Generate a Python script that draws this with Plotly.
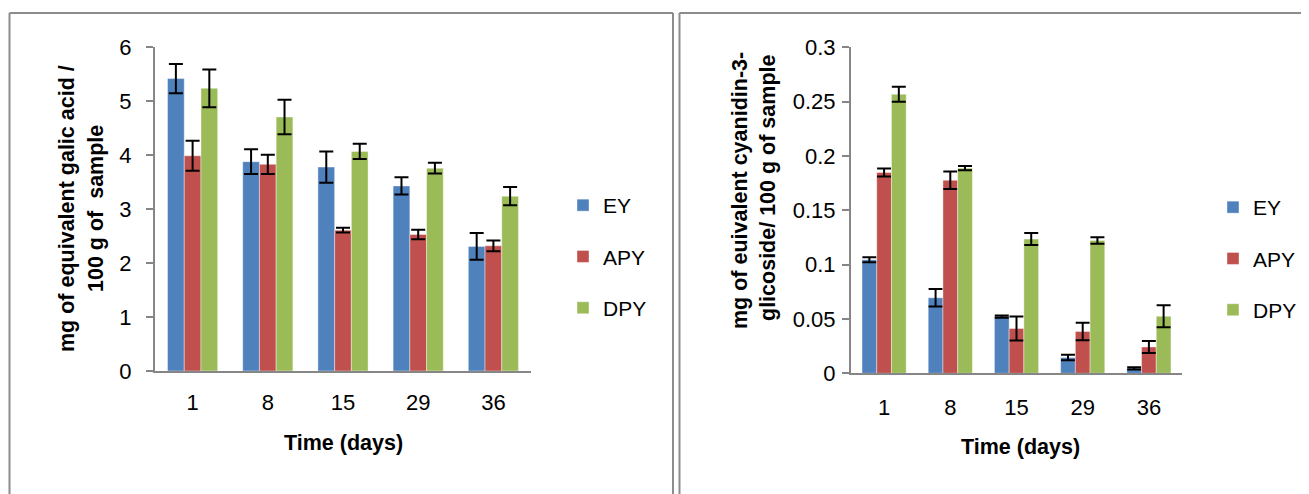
import plotly.graph_objects as go

days = ["1", "8", "15", "29", "36"]
series = ["EY", "APY", "DPY"]
colors = ["#4F81BD", "#C0504D", "#9BBB59"]

# Left chart: total phenolics (mg gallic acid eq / 100 g)
phen_EY = [5.42, 3.88, 3.78, 3.43, 2.31]
phen_APY = [3.99, 3.83, 2.61, 2.53, 2.32]
phen_DPY = [5.24, 4.71, 4.07, 3.76, 3.24]
phen_EY_err = [0.27, 0.23, 0.29, 0.16, 0.25]
phen_APY_err = [0.28, 0.18, 0.045, 0.09, 0.1]
phen_DPY_err = [0.35, 0.32, 0.14, 0.1, 0.17]

# Right chart: anthocyanins (mg cyanidin-3-glucoside eq / 100 g)
anth_EY = [0.1045, 0.0695, 0.0522, 0.0145, 0.0045]
anth_APY = [0.1848, 0.1776, 0.0412, 0.0385, 0.0242]
anth_DPY = [0.2568, 0.1888, 0.1235, 0.1222, 0.0525]
anth_EY_err = [0.0023, 0.008, 0.001, 0.0025, 0.001]
anth_APY_err = [0.0037, 0.008, 0.011, 0.008, 0.0055]
anth_DPY_err = [0.007, 0.002, 0.0055, 0.003, 0.0102]

W, H = 1309, 494
OFF = 8  # page body margin offset compensation
FONT = "Liberation Sans, Arial, sans-serif"

def px(x):
    return (x - OFF) / W

def py(y):
    return 1 - (y - OFF) / H

fig = go.Figure()

left_vals = [phen_EY, phen_APY, phen_DPY]
left_errs = [phen_EY_err, phen_APY_err, phen_DPY_err]
right_vals = [anth_EY, anth_APY, anth_DPY]
right_errs = [anth_EY_err, anth_APY_err, anth_DPY_err]

for i, name in enumerate(series):
    fig.add_trace(go.Bar(
        x=days, y=left_vals[i], name=name, xaxis="x", yaxis="y",
        marker=dict(color=colors[i], line=dict(color="rgba(255,255,255,0.5)", width=0.8)),
        error_y=dict(type="data", array=left_errs[i], color="black", thickness=2, width=7),
        legend="legend", legendgroup="L" + name,
    ))
for i, name in enumerate(series):
    fig.add_trace(go.Bar(
        x=days, y=right_vals[i], name=name, xaxis="x2", yaxis="y2",
        marker=dict(color=colors[i], line=dict(color="rgba(255,255,255,0.5)", width=0.8)),
        error_y=dict(type="data", array=right_errs[i], color="black", thickness=2, width=7),
        legend="legend2", legendgroup="R" + name,
    ))

axis_common = dict(showline=True, linecolor="#868686", linewidth=2, showgrid=False,
                   zeroline=False, automargin=False,
                   tickfont=dict(family=FONT, size=22, color="black"))

fig.update_layout(
    width=W, height=H,
    margin=dict(l=0, r=0, t=0, b=0, pad=0, autoexpand=False),
    paper_bgcolor="white", plot_bgcolor="white",
    barmode="group", bargap=0.333, bargroupgap=0,
    font=dict(family=FONT, color="black"),
    xaxis=dict(domain=[px(155), px(531)], anchor="y", type="category",
               ticks="", ticklabelstandoff=11, **axis_common),
    yaxis=dict(domain=[py(371), py(47.3)], anchor="x", range=[0, 6], dtick=1,
               ticks="outside", ticklen=7, tickcolor="#868686", tickwidth=2,
               ticklabelstandoff=10, **axis_common),
    xaxis2=dict(domain=[px(851), px(1182)], anchor="y2", type="category",
                ticks="", ticklabelstandoff=13, **axis_common),
    yaxis2=dict(domain=[py(373.3), py(47.3)], anchor="x2", range=[0, 0.3], dtick=0.05,
                ticks="outside", ticklen=7, tickcolor="#868686", tickwidth=2,
                ticklabelstandoff=2, tickformat="~g", **axis_common),
    legend=dict(x=px(563), y=py(185), xanchor="left", yanchor="top",
                font=dict(family=FONT, size=21), tracegroupgap=21,
                bgcolor="rgba(0,0,0,0)", itemwidth=30),
    legend2=dict(x=px(1213), y=py(187), xanchor="left", yanchor="top",
                 font=dict(family=FONT, size=21), tracegroupgap=21,
                 bgcolor="rgba(0,0,0,0)", itemwidth=30),
    showlegend=True,
)

annos = [
    dict(text="<b>mg of equivalent galic acid /</b>", x=px(67), y=py(209), textangle=-90),
    dict(text="<b>100 g of  sample</b>", x=px(96), y=py(209), textangle=-90),
    dict(text="<b>mg of euivalent cyanidin-3-</b>", x=px(740), y=py(190), textangle=-90),
    dict(text="<b>glicoside/ 100 g of sample</b>", x=px(768), y=py(188), textangle=-90),
    dict(text="<b>Time (days)</b>", x=px(343), y=py(443), textangle=0),
    dict(text="<b>Time (days)</b>", x=px(1020), y=py(447), textangle=0),
]
for a in annos:
    fig.add_annotation(xref="paper", yref="paper", showarrow=False,
                       xanchor="center", yanchor="middle",
                       font=dict(family=FONT, size=21.5, color="black"), **a)

border = dict(color="#8C8C8C", width=2)
for (x0, y0, x1, y1) in [(9.5, 13, 673, 13), (9.5, 13, 9.5, 520), (673, 13, 673, 520),
                         (679.5, 13, 1330, 13), (679.5, 13, 679.5, 520)]:
    fig.add_shape(type="line", xref="paper", yref="paper",
                  x0=px(x0), y0=py(y0), x1=px(x1), y1=py(y1), line=border)

fig.write_html("out.html")
